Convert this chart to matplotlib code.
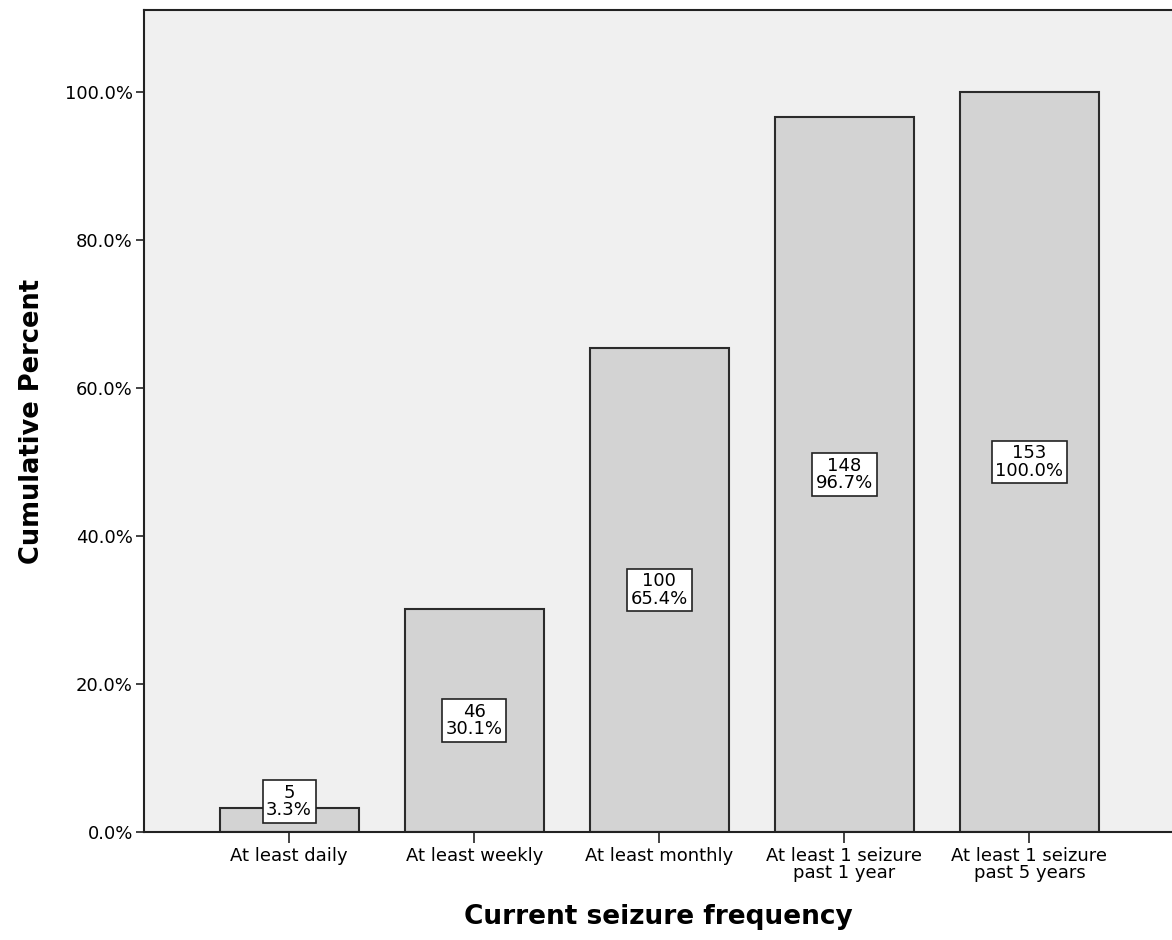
import matplotlib
matplotlib.use("Agg")
import matplotlib.pyplot as plt
from matplotlib.ticker import FuncFormatter

categories = ["At least daily", "At least weekly", "At least monthly",
              "At least 1 seizure\npast 1 year", "At least 1 seizure\npast 5 years"]
cum_percent = [3.3, 30.1, 65.4, 96.7, 100.0]
counts = [5, 46, 100, 148, 153]

plt.rcParams["font.family"] = ["DejaVu Sans"]

W, H = 1172, 940
fig = plt.figure(figsize=(W / 100, H / 100), dpi=100)
ax = fig.add_axes([144 / W, (H - 832) / H, (W - 144) / W, (832 - 10) / H])
ax.set_facecolor("#f0f0f0")

x = range(len(categories))
ax.bar(x, cum_percent, width=0.75, color="#d3d3d3", edgecolor="#2b2b2b", linewidth=1.5, zorder=2)

for i, (c, p) in enumerate(zip(counts, cum_percent)):
    ax.text(i, max(p / 2, 4.1), f"{c}\n{p:.1f}%", ha="center", va="center",
            fontsize=13, linespacing=0.95, zorder=3,
            bbox=dict(boxstyle="square,pad=0.2", facecolor="white", edgecolor="#222222", linewidth=1.2))

ax.set_xlim(-0.784, 4.77)
ax.set_ylim(0, 111.1)
ax.set_yticks([0, 20, 40, 60, 80, 100])
ax.yaxis.set_major_formatter(FuncFormatter(lambda v, _: f"{v:.1f}%"))
ax.set_xticks(list(x))
ax.set_xticklabels(categories, fontsize=13, linespacing=0.9)
ax.tick_params(axis="y", labelsize=13, length=6, width=1.2, color="#222222", pad=2)
ax.tick_params(axis="x", length=8, width=1.2, color="#222222", pad=3)

for s in ["left", "top", "bottom"]:
    ax.spines[s].set_linewidth(1.5)
    ax.spines[s].set_color("#222222")
ax.spines["right"].set_visible(False)

ax.set_xlabel("Current seizure frequency", fontsize=19, fontweight="bold", labelpad=16)
ax.set_ylabel("Cumulative Percent", fontsize=18.5, fontweight="bold", labelpad=14)

fig.savefig("out.png", dpi=100)
